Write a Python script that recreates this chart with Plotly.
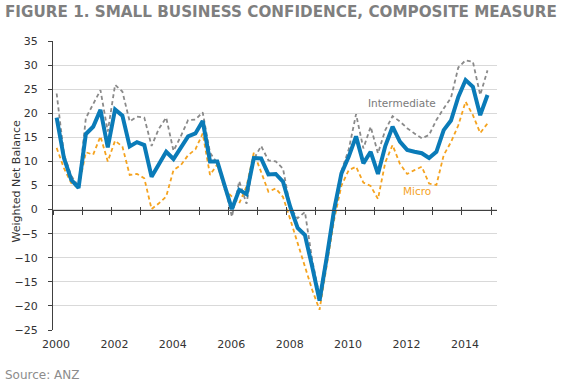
import plotly.graph_objects as go

# ---- data (quarterly, 2000Q1 .. 2014Q4) ----
years = list(range(2000, 2015))
quarters = [f"{y}Q{q}" for y in years for q in (1, 2, 3, 4)]

small = [19.1, 10.7, 6.2, 4.5, 15.7, 17.2, 20.7, 12.9, 20.8, 19.5,
         13.1, 14.0, 13.4, 6.8, 9.4, 12.0, 10.5, 12.8, 15.2, 15.8,
         18.4, 10.0, 10.0, 5.0, 0.1, 4.1, 3.2, 10.7, 10.6, 7.3,
         7.4, 5.8, 0.5, -3.8, -5.3, -11.9, -18.9, -9.8, 0.0, 7.5,
         11.0, 15.2, 9.6, 12.0, 7.4, 13.2, 17.2, 14.1, 12.4, 12.0,
         11.7, 10.7, 12.0, 16.5, 18.5, 23.4, 26.9, 25.5, 19.6, 23.8]

intermediate = [24.1, 11.5, 7.0, 4.8, 19.0, 22.0, 24.8, 16.2, 25.9, 24.5,
                18.3, 19.3, 19.1, 13.2, 16.8, 19.1, 12.2, 15.2, 18.6, 18.7,
                20.2, 11.8, 9.6, 5.0, -1.5, 5.9, 1.2, 10.5, 13.2, 10.2,
                10.0, 8.5, 0.3, -1.8, -0.5, -10.5, -18.0, -9.0, 0.6, 8.0,
                12.5, 19.8, 12.7, 17.2, 11.7, 16.5, 19.4, 18.3, 16.9, 15.8,
                14.8, 15.5, 18.6, 21.0, 23.2, 29.5, 31.0, 30.7, 23.8, 28.9]

micro = [12.8, 8.6, 5.5, 4.5, 11.9, 11.4, 15.2, 10.0, 14.3, 13.1,
         7.2, 7.4, 6.5, 0.1, 1.3, 2.7, 8.2, 9.2, 11.3, 12.5,
         15.8, 7.2, 9.4, 4.2, 2.7, 1.3, 4.8, 11.8, 7.8, 3.7,
         4.4, 2.6, -2.1, -7.0, -11.8, -16.7, -20.8, -11.8, -2.1, 5.0,
         8.2, 8.9, 5.6, 4.9, 2.2, 9.8, 13.4, 9.5, 7.4, 8.2,
         8.9, 5.4, 5.1, 11.3, 14.0, 17.5, 22.4, 19.6, 15.9, 17.9]

x_tick_labels = [str(y) for y in range(2000, 2015, 2)]
y_ticks = list(range(-25, 40, 5))


def quarter_to_decimal(qs):
    out = []
    for s in qs:
        y, q = s.split("Q")
        out.append(int(y) + (int(q) - 0.5) / 4.0)
    return out


xq = quarter_to_decimal(quarters)

BLUE = "#0a7bb8"
GRAY = "#8a8a8a"
ORANGE = "#f5a31f"
FONT = "DejaVu Sans"

W, H = 562, 386
ML, MR, MT, MB = 53, 65, 41, 56
PW, PH = W - ML - MR, H - MT - MB


def px_x(px):
    return (px - ML) / PW


def px_y(py):
    return 1 - (py - MT) / PH


fig = go.Figure()
fig.add_trace(go.Scatter(x=xq, y=intermediate, mode="lines", xaxis="x",
                         line=dict(color=GRAY, width=1.8, dash="4px,3px"),
                         name="Intermediate", showlegend=False, hoverinfo="skip"))
fig.add_trace(go.Scatter(x=xq, y=micro, mode="lines", xaxis="x2",
                         line=dict(color=ORANGE, width=1.8, dash="4px,3px"),
                         name="Micro", showlegend=False, hoverinfo="skip"))
fig.add_trace(go.Scatter(x=xq, y=small, mode="lines", xaxis="x3",
                         line=dict(color=BLUE, width=4),
                         name="SMALL", showlegend=False, hoverinfo="skip"))

xr = [2000, 2015.2]
zero_pos = (0 - (-25)) / 60.0

fig.update_layout(
    width=W, height=H,
    margin=dict(l=ML, r=MR, t=MT, b=MB, autoexpand=False),
    paper_bgcolor="white", plot_bgcolor="white",
    font=dict(family=FONT, size=11, color="#333333"),
    showlegend=False,
    xaxis=dict(range=xr, tickvals=[int(v) for v in x_tick_labels],
               ticktext=x_tick_labels, showgrid=False, zeroline=False,
               showline=False, ticks="", ticklabelstandoff=6,
               ticklabelshift=3, automargin=False,
               tickfont=dict(size=11, color="#333333")),
    xaxis2=dict(range=xr, matches="x", overlaying="x", anchor="free",
                position=zero_pos, showline=True, linecolor="#404040",
                linewidth=1, ticks="inside", ticklen=3, tickcolor="#404040",
                tick0=2000, dtick=1, showticklabels=False, showgrid=False,
                zeroline=False, automargin=False),
    xaxis3=dict(range=xr, matches="x", overlaying="x", anchor="free",
                position=zero_pos, showline=True, linecolor="#404040",
                linewidth=1, ticks="outside", ticklen=4, tickcolor="#404040",
                tick0=2000, dtick=1, showticklabels=False, showgrid=False,
                zeroline=False, automargin=False),
    yaxis=dict(range=[-25, 35], tickvals=y_ticks, showgrid=True,
               gridcolor="#d9d9d9", gridwidth=1, zeroline=False,
               showline=True, linecolor="#404040", linewidth=1,
               ticks="outside", ticklen=4, tickcolor="#404040",
               ticklabelstandoff=8, automargin=False,
               tickfont=dict(size=11, color="#333333")),
)

fig.add_annotation(text="<b>FIGURE 1. SMALL BUSINESS CONFIDENCE, COMPOSITE MEASURE</b>",
                   xref="paper", yref="paper", x=px_x(3), y=px_y(12),
                   xanchor="left", yanchor="middle", showarrow=False,
                   font=dict(family=FONT, size=15.2, color="#7f7f7f"))
fig.add_annotation(text="Source: ANZ", xref="paper", yref="paper",
                   x=px_x(3), y=px_y(375), xanchor="left",
                   yanchor="middle", showarrow=False,
                   font=dict(family=FONT, size=12, color="#8c8c8c"))
fig.add_annotation(text="Weighted Net Balance", xref="paper", yref="paper",
                   x=px_x(16.5), y=px_y(182), textangle=-90,
                   xanchor="center", yanchor="middle", showarrow=False,
                   font=dict(family=FONT, size=11, color="#333333"))
fig.add_annotation(text="Intermediate", x=2011.95, y=22.2, xref="x", yref="y",
                   showarrow=False, font=dict(family=FONT, size=10.5, color="#7a7a7a"))
fig.add_annotation(text="Micro", x=2012.45, y=3.9, xref="x", yref="y",
                   showarrow=False, font=dict(family=FONT, size=10.5, color=ORANGE))
fig.add_annotation(text="<b>SMALL</b>", x=2015.8, y=24.4, xref="x", yref="y",
                   showarrow=False, font=dict(family=FONT, size=11.5, color=BLUE))

fig.write_html("out.html",
               config={"displayModeBar": False, "staticPlot": True},
               post_script="document.body.style.margin='0';"
                           "document.body.style.overflow='hidden';")
